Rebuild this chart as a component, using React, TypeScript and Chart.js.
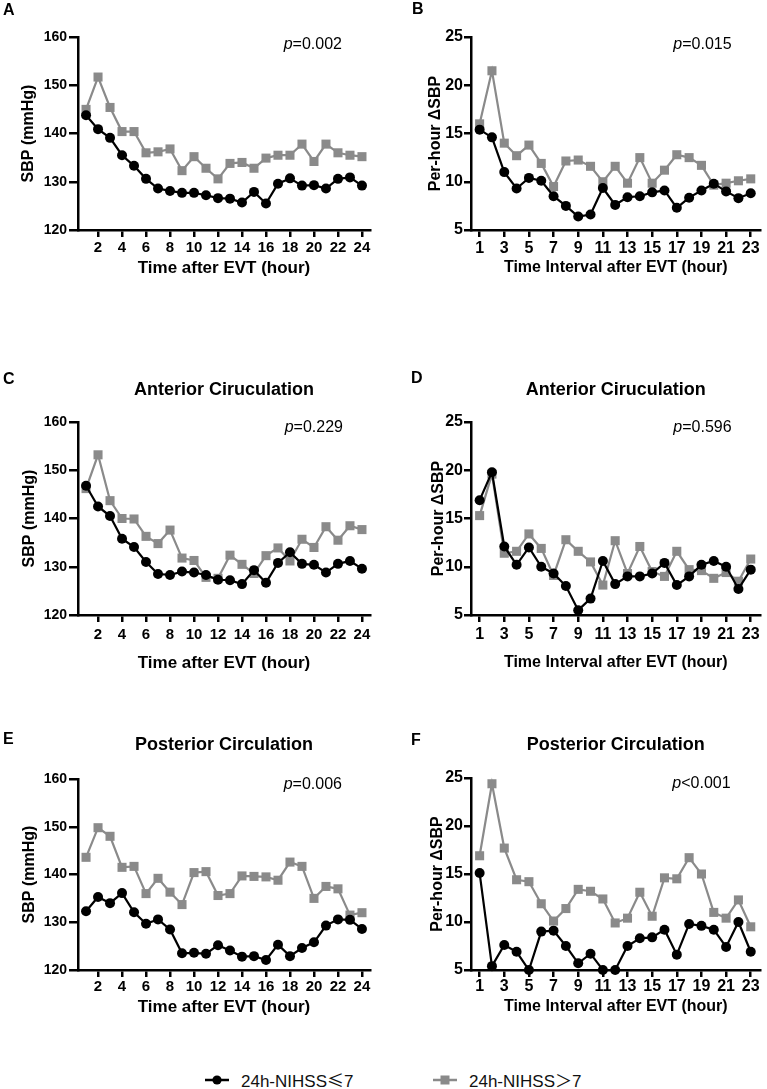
import React, { useEffect, useRef } from 'react';
import { Chart, registerables } from 'chart.js';

Chart.register(...registerables);

const FONT = '"Liberation Sans", Arial, Helvetica, sans-serif';
const BLACK = '#000000';
const GRAY = '#8a8a8a';

// ---------- categories & ticks ----------
const hours = [1, 2, 3, 4, 5, 6, 7, 8, 9, 10, 11, 12, 13, 14, 15, 16, 17, 18, 19, 20, 21, 22, 23, 24];
const intervals = [1, 2, 3, 4, 5, 6, 7, 8, 9, 10, 11, 12, 13, 14, 15, 16, 17, 18, 19, 20, 21, 22, 23];
const xTicksHour = [2, 4, 6, 8, 10, 12, 14, 16, 18, 20, 22, 24];
const xTicksInterval = [1, 3, 5, 7, 9, 11, 13, 15, 17, 19, 21, 23];
const yTicksSBP = [120, 130, 140, 150, 160];
const yTicksDelta = [5, 10, 15, 20, 25];

const seriesLabels = ['24h-NIHSS≤7', '24h-NIHSS＞7'];

// ---------- A: all patients, SBP ----------
const sbpAllLow = [143.8, 140.9, 139.1, 135.5, 133.3, 130.6, 128.6, 128.1, 127.7, 127.7, 127.2, 126.6, 126.5, 125.7, 127.9, 125.5, 129.6, 130.7, 129.2, 129.3, 128.6, 130.6, 130.9, 129.2];
const sbpAllHigh = [145.0, 151.7, 145.4, 140.4, 140.4, 136.0, 136.2, 136.8, 132.3, 135.2, 132.8, 130.6, 133.8, 134.0, 132.8, 134.9, 135.5, 135.5, 137.8, 134.2, 137.8, 136.0, 135.5, 135.2];

// ---------- B: all patients, per-hour ΔSBP ----------
const deltaAllLow = [15.4, 14.6, 11.0, 9.3, 10.4, 10.1, 8.5, 7.5, 6.4, 6.6, 9.35, 7.6, 8.4, 8.5, 8.9, 9.1, 7.3, 8.35, 9.1, 9.8, 9.0, 8.3, 8.8];
const deltaAllHigh = [16.0, 21.5, 14.0, 12.7, 13.8, 11.9, 9.5, 12.15, 12.25, 11.6, 10.0, 11.6, 9.85, 12.5, 9.85, 11.2, 12.8, 12.5, 11.7, 9.65, 9.85, 10.1, 10.3];

// ---------- C: anterior circulation, SBP ----------
const sbpAntLow = [146.8, 142.5, 140.5, 135.8, 134.1, 131.0, 128.5, 128.3, 129.0, 128.8, 128.3, 127.3, 127.2, 126.4, 129.3, 126.7, 130.8, 133.0, 130.6, 130.4, 128.8, 130.6, 131.2, 129.6];
const sbpAntHigh = [146.2, 153.2, 143.7, 140.0, 139.9, 136.3, 134.8, 137.6, 131.8, 131.3, 127.8, 127.6, 132.4, 130.5, 128.6, 132.3, 133.9, 131.2, 135.7, 134.0, 138.3, 135.5, 138.5, 137.7];

// ---------- D: anterior circulation, per-hour ΔSBP ----------
const deltaAntLow = [16.9, 19.8, 12.1, 10.2, 12.0, 10.0, 9.3, 8.0, 5.5, 6.7, 10.6, 8.2, 9.0, 9.0, 9.3, 10.4, 8.1, 9.0, 10.2, 10.6, 10.0, 7.7, 9.7];
const deltaAntHigh = [15.3, 19.6, 11.4, 11.6, 13.4, 11.9, 9.1, 12.8, 11.6, 10.5, 8.1, 12.7, 9.3, 12.1, 9.5, 9.0, 11.6, 9.7, 9.6, 8.8, 9.4, 8.5, 10.8];

// ---------- E: posterior circulation, SBP ----------
const sbpPostLow = [132.3, 135.3, 134.0, 136.1, 132.1, 129.7, 130.6, 128.5, 123.5, 123.6, 123.4, 125.2, 124.1, 122.8, 122.9, 122.1, 125.3, 122.9, 124.6, 125.8, 129.3, 130.6, 130.5, 128.6];
const sbpPostHigh = [143.6, 149.8, 148.0, 141.5, 141.7, 136.0, 139.2, 136.3, 133.7, 140.4, 140.6, 135.6, 136.0, 139.7, 139.6, 139.5, 138.8, 142.6, 141.7, 135.0, 137.5, 137.0, 131.5, 132.0];

// ---------- F: posterior circulation, per-hour ΔSBP ----------
const deltaPostLow = [15.1, 5.4, 7.6, 6.9, 5.0, 9.0, 9.1, 7.5, 5.7, 6.7, 5.0, 5.0, 7.5, 8.3, 8.4, 9.2, 6.6, 9.8, 9.6, 9.2, 7.4, 10.0, 6.9];
const deltaPostHigh = [16.9, 24.4, 17.7, 14.4, 14.2, 11.9, 10.1, 11.4, 13.4, 13.2, 12.4, 9.9, 10.4, 13.1, 10.6, 14.6, 14.5, 16.7, 15.0, 11.0, 10.4, 12.3, 9.5];

const xTitleHour = 'Time after EVT (hour)';
const xTitleInterval = 'Time Interval after EVT (hour)';
const yTitleSBP = 'SBP (mmHg)';
const yTitleDelta = 'Per-hour ΔSBP';

type Panel = {
  letter: string;
  title?: string;
  pRest: string;
  x: number[];
  low: number[];
  high: number[];
  xTicks: number[];
  yTicks: number[];
  xMin: number;
  xMax: number;
  yMin: number;
  yMax: number;
  xTitle: string;
  yTitle: string;
  // layout (canvas-relative)
  left: number;
  top: number;
  width: number;
  height: number;
  area: { l: number; r: number; t: number; b: number };
  letterX: number;
  letterY: number;
  titleY: number;
  pY: number;
  pRight: number;
  yTitleCenter: number;
  yTitleSize: number;
  xTitleSize: number;
  xTitleCenter: number;
  xTickSize: number;
  yTickSize: number;
  xTickCenter: number;
  yTickLen: number;
  yTickPad: number;
};

const panels: Panel[] = [
  {
    letter: 'A', pRest: '=0.002', x: hours, low: sbpAllLow, high: sbpAllHigh,
    xTicks: xTicksHour, yTicks: yTicksSBP, xMin: 0.33, xMax: 24.67, yMin: 120, yMax: 160,
    xTitle: xTitleHour, yTitle: yTitleSBP,
    left: 0, top: 0, width: 380, height: 290, area: { l: 78, r: 370, t: 37, b: 230 },
    letterX: 3, letterY: 11, titleY: 0, pY: 45, pRight: 28,
    yTitleCenter: 29, yTitleSize: 16, xTitleSize: 17, xTitleCenter: 268,
    xTickSize: 15, yTickSize: 14, xTickCenter: 248, yTickLen: 9, yTickPad: 2,
  },
  {
    letter: 'B', pRest: '=0.015', x: intervals, low: deltaAllLow, high: deltaAllHigh,
    xTicks: xTicksInterval, yTicks: yTicksDelta, xMin: 0.3, xMax: 23.8, yMin: 5, yMax: 25,
    xTitle: xTitleInterval, yTitle: yTitleDelta,
    left: 380, top: 0, width: 387, height: 290, area: { l: 91, r: 385, t: 37, b: 230 },
    letterX: 32, letterY: 10, titleY: 0, pY: 45, pRight: 29,
    yTitleCenter: 56, yTitleSize: 16, xTitleSize: 16, xTitleCenter: 268,
    xTickSize: 16, yTickSize: 16, xTickCenter: 249, yTickLen: 7, yTickPad: 1,
  },
  {
    letter: 'C', title: 'Anterior Ciruculation', pRest: '=0.229', x: hours, low: sbpAntLow, high: sbpAntHigh,
    xTicks: xTicksHour, yTicks: yTicksSBP, xMin: 0.33, xMax: 24.67, yMin: 120, yMax: 160,
    xTitle: xTitleHour, yTitle: yTitleSBP,
    left: 0, top: 360, width: 380, height: 320, area: { l: 78, r: 370, t: 62, b: 255 },
    letterX: 3, letterY: 20, titleY: 30, pY: 68, pRight: 27,
    yTitleCenter: 30, yTitleSize: 16, xTitleSize: 17, xTitleCenter: 303,
    xTickSize: 15, yTickSize: 14, xTickCenter: 275, yTickLen: 9, yTickPad: 2,
  },
  {
    letter: 'D', title: 'Anterior Ciruculation', pRest: '=0.596', x: intervals, low: deltaAntLow, high: deltaAntHigh,
    xTicks: xTicksInterval, yTicks: yTicksDelta, xMin: 0.3, xMax: 23.8, yMin: 5, yMax: 25,
    xTitle: xTitleInterval, yTitle: yTitleDelta,
    left: 380, top: 360, width: 387, height: 320, area: { l: 91, r: 385, t: 62, b: 255 },
    letterX: 31, letterY: 19, titleY: 30, pY: 68, pRight: 29,
    yTitleCenter: 59, yTitleSize: 16, xTitleSize: 16, xTitleCenter: 303,
    xTickSize: 16, yTickSize: 16, xTickCenter: 275, yTickLen: 7, yTickPad: 1,
  },
  {
    letter: 'E', title: 'Posterior Circulation', pRest: '=0.006', x: hours, low: sbpPostLow, high: sbpPostHigh,
    xTicks: xTicksHour, yTicks: yTicksSBP, xMin: 0.33, xMax: 24.67, yMin: 120, yMax: 160,
    xTitle: xTitleHour, yTitle: yTitleSBP,
    left: 0, top: 720, width: 380, height: 310, area: { l: 78, r: 370, t: 59, b: 250 },
    letterX: 3, letterY: 20, titleY: 25, pY: 65, pRight: 28,
    yTitleCenter: 30, yTitleSize: 16, xTitleSize: 17, xTitleCenter: 287,
    xTickSize: 15, yTickSize: 14, xTickCenter: 267, yTickLen: 9, yTickPad: 2,
  },
  {
    letter: 'F', title: 'Posterior Circulation', pRest: '<0.001', x: intervals, low: deltaPostLow, high: deltaPostHigh,
    xTicks: xTicksInterval, yTicks: yTicksDelta, xMin: 0.3, xMax: 23.8, yMin: 5, yMax: 25,
    xTitle: xTitleInterval, yTitle: yTitleDelta,
    left: 380, top: 720, width: 387, height: 310, area: { l: 91, r: 385, t: 58, b: 250 },
    letterX: 31, letterY: 21, titleY: 25, pY: 64, pRight: 30,
    yTitleCenter: 58, yTitleSize: 16, xTitleSize: 16, xTitleCenter: 287,
    xTickSize: 16, yTickSize: 16, xTickCenter: 267, yTickLen: 7, yTickPad: 1,
  },
];

const panelTextPlugin = {
  id: 'panelText',
  afterDraw(chart: any, _args: any, opts: any) {
    const ctx = chart.ctx as CanvasRenderingContext2D;
    const a = chart.chartArea;
    ctx.save();
    ctx.fillStyle = BLACK;
    ctx.textBaseline = 'middle';
    // panel letter
    ctx.font = `bold 16px ${FONT}`;
    ctx.textAlign = 'left';
    ctx.fillText(opts.letter, opts.letterX, opts.letterY);
    // panel title
    if (opts.title) {
      ctx.font = `bold 18px ${FONT}`;
      ctx.textAlign = 'center';
      ctx.fillText(opts.title, (a.left + a.right) / 2, opts.titleY);
    }
    // p value
    ctx.textAlign = 'left';
    ctx.font = `16px ${FONT}`;
    const wRest = ctx.measureText(opts.pRest).width;
    const xRest = a.right - opts.pRight - wRest;
    ctx.fillText(opts.pRest, xRest, opts.pY);
    ctx.font = `italic 16px ${FONT}`;
    const wp = ctx.measureText('p').width;
    ctx.fillText('p', xRest - wp, opts.pY);
    ctx.restore();
  },
};

function buildConfig(p: Panel): any {
  const xTickLen = 7;
  const xTickLH = p.xTickSize * 1.2;
  const xTickPad = Math.max(0, p.xTickCenter - p.area.b - xTickLen - xTickLH / 2);
  const xTitleLH = p.xTitleSize * 1.2;
  const xTitlePad = Math.max(0, p.height - p.xTitleCenter - xTitleLH / 2);
  const yTitleLH = p.yTitleSize * 1.2;
  const yTitlePad = Math.max(0, p.yTitleCenter - yTitleLH / 2);
  return {
    type: 'line',
    data: {
      datasets: [
        {
          label: seriesLabels[0],
          data: p.x.map((h, i) => ({ x: h, y: p.low[i] })),
          borderColor: BLACK,
          backgroundColor: BLACK,
          pointBackgroundColor: BLACK,
          pointBorderColor: BLACK,
          pointStyle: 'circle',
          pointRadius: 5,
          pointBorderWidth: 0,
          borderWidth: 2.2,
          tension: 0,
          clip: false,
        },
        {
          label: seriesLabels[1],
          data: p.x.map((h, i) => ({ x: h, y: p.high[i] })),
          borderColor: GRAY,
          backgroundColor: GRAY,
          pointBackgroundColor: GRAY,
          pointBorderColor: GRAY,
          pointStyle: 'rect',
          pointRadius: 6.4,
          pointBorderWidth: 0,
          borderWidth: 2.2,
          tension: 0,
          clip: false,
        },
      ],
    },
    options: {
      responsive: false,
      animation: false,
      devicePixelRatio: 1,
      events: [],
      layout: { padding: { top: p.area.t, right: p.width - p.area.r, left: 0, bottom: 0 } },
      plugins: {
        legend: { display: false },
        tooltip: { enabled: false },
        title: { display: false },
        panelText: {
          letter: p.letter, title: p.title, pRest: p.pRest,
          letterX: p.letterX, letterY: p.letterY, titleY: p.titleY, pY: p.pY, pRight: p.pRight,
        },
      },
      scales: {
        x: {
          type: 'linear',
          position: 'bottom',
          min: p.xMin,
          max: p.xMax,
          afterBuildTicks: (s: any) => { s.ticks = p.xTicks.map((v) => ({ value: v })); },
          afterFit: (s: any) => { s.height = p.height - p.area.b; },
          grid: {
            display: true, drawOnChartArea: false, drawTicks: true,
            tickLength: xTickLen, lineWidth: 2.5, tickWidth: 2.5, color: BLACK, tickColor: BLACK,
          },
          border: { display: true, color: BLACK, width: 2.5 },
          ticks: {
            color: BLACK, autoSkip: false, maxRotation: 0, minRotation: 0, padding: xTickPad,
            font: { family: FONT, size: p.xTickSize, weight: 'bold' },
            callback: (v: any) => String(v),
          },
          title: {
            display: true, text: p.xTitle, color: BLACK,
            font: { family: FONT, size: p.xTitleSize, weight: 'bold' },
            padding: { top: 0, bottom: xTitlePad },
          },
        },
        y: {
          type: 'linear',
          position: 'left',
          min: p.yMin,
          max: p.yMax,
          afterBuildTicks: (s: any) => { s.ticks = p.yTicks.map((v) => ({ value: v })); },
          afterFit: (s: any) => { s.width = p.area.l; },
          grid: {
            display: true, drawOnChartArea: false, drawTicks: true,
            tickLength: p.yTickLen, lineWidth: 2.5, tickWidth: 2.5, color: BLACK, tickColor: BLACK,
          },
          border: { display: true, color: BLACK, width: 2.5 },
          ticks: {
            color: BLACK, padding: p.yTickPad,
            font: { family: FONT, size: p.yTickSize, weight: 'bold' },
            callback: (v: any) => String(v),
          },
          title: {
            display: true, text: p.yTitle, color: BLACK,
            font: { family: FONT, size: p.yTitleSize, weight: 'bold' },
            padding: { top: yTitlePad, bottom: 0 },
          },
        },
      },
    },
    plugins: [panelTextPlugin],
  };
}

function PanelChart({ p }: { p: Panel }) {
  const ref = useRef<HTMLCanvasElement | null>(null);
  useEffect(() => {
    if (!ref.current) return;
    const chart = new Chart(ref.current, buildConfig(p));
    return () => chart.destroy();
  }, [p]);
  return (
    <div style={{ position: 'absolute', left: p.left, top: p.top, width: p.width, height: p.height }}>
      <canvas ref={ref} width={p.width} height={p.height} style={{ display: 'block', width: p.width, height: p.height }} />
    </div>
  );
}

function Legend() {
  const textStyle: React.CSSProperties = {
    position: 'absolute', top: 1069, height: 22, lineHeight: '22px',
    fontFamily: FONT, fontSize: 17, color: '#111', whiteSpace: 'nowrap',
  };
  const cjk: React.CSSProperties = { fontFamily: '"Noto Sans CJK SC", sans-serif' };
  return (
    <>
      <svg style={{ position: 'absolute', left: 205, top: 1070 }} width={24} height={20}>
        <line x1={0} y1={10} x2={24} y2={10} stroke={BLACK} strokeWidth={2.5} />
        <circle cx={12} cy={10} r={4.6} fill={BLACK} />
      </svg>
      <div style={{ ...textStyle, left: 241 }}>
        {seriesLabels[0].slice(0, 9)}<span style={cjk}>{seriesLabels[0].slice(9, 10)}</span>{seriesLabels[0].slice(10)}
      </div>
      <svg style={{ position: 'absolute', left: 433, top: 1070 }} width={24} height={20}>
        <line x1={0} y1={10} x2={24} y2={10} stroke={GRAY} strokeWidth={2.5} />
        <rect x={7.5} y={5.5} width={9} height={9} fill={GRAY} />
      </svg>
      <div style={{ ...textStyle, left: 469 }}>
        {seriesLabels[1].slice(0, 9)}<span style={cjk}>{seriesLabels[1].slice(9, 10)}</span>{seriesLabels[1].slice(10)}
      </div>
    </>
  );
}

export default function App() {
  return (
    <div style={{ position: 'absolute', left: 0, top: 0, width: 767, height: 1089, background: '#ffffff', overflow: 'hidden' }}>
      {panels.map((p) => (
        <PanelChart key={p.letter} p={p} />
      ))}
      <Legend />
    </div>
  );
}
